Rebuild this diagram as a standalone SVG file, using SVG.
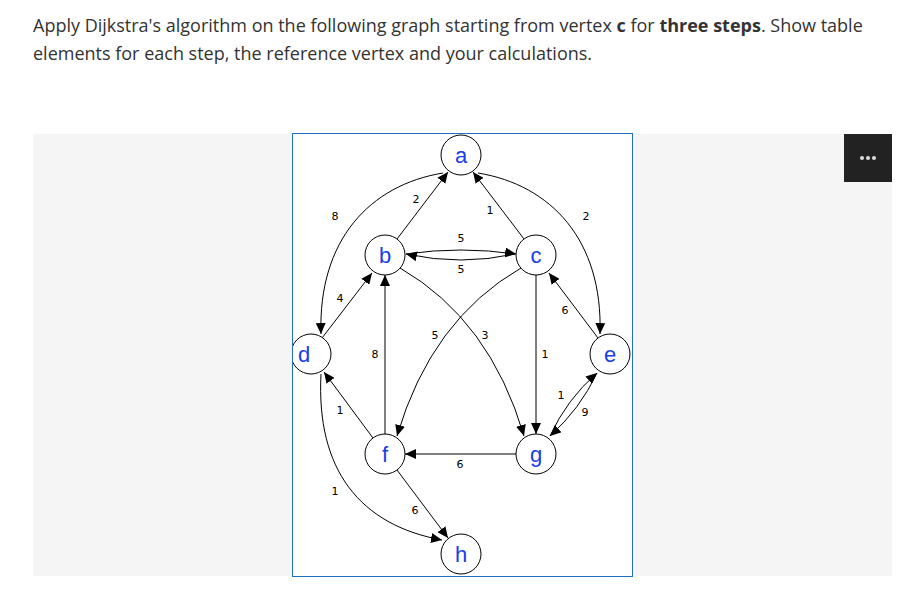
<svg xmlns="http://www.w3.org/2000/svg" width="915" height="603" viewBox="0 0 915 603">
<defs>
<style>
.q{font-family:"Open Sans","Noto Sans",sans-serif;font-size:18px;fill:#333}
.e{fill:none;stroke:#000;stroke-width:1}
.w{font-family:"DejaVu Sans",sans-serif;font-size:11px;fill:#000;text-anchor:middle}
.n circle{fill:#fff;stroke:#000;stroke-width:1}
.n text{font-family:"Liberation Sans",sans-serif;font-size:22px;fill:#1a3de6;text-anchor:middle}
</style>
<marker id="ar" markerUnits="userSpaceOnUse" markerWidth="12" markerHeight="10" refX="11" refY="5" orient="auto">
<path d="M0,0 L11,5 L0,10 Z" fill="#000"/>
</marker>
<clipPath id="box"><rect x="293" y="134" width="339" height="442"/></clipPath>
</defs>
<rect width="915" height="603" fill="#fff"/>
<text class="q" x="33" y="32">Apply Dijkstra's algorithm on the following graph starting from vertex <tspan font-weight="bold">c</tspan> for <tspan font-weight="bold">three steps</tspan>. Show table</text>
<text class="q" x="33" y="60">elements for each step, the reference vertex and your calculations.</text>
<rect x="33" y="134" width="859" height="442" fill="#f5f5f5"/>
<rect x="844" y="134" width="48" height="48" fill="#222"/>
<circle cx="862" cy="158" r="2" fill="#ddd"/>
<circle cx="868" cy="158" r="2" fill="#ddd"/>
<circle cx="874" cy="158" r="2" fill="#ddd"/>
<rect x="292.5" y="133.5" width="340" height="443" fill="#fff" stroke="#1f6fc5" stroke-width="1"/>
<g clip-path="url(#box)">
<g id="connectors" marker-end="url(#ar)">
<path class="e" d="M397,239 L448,172"/>
<path class="e" d="M524,239 L473,172"/>
<path class="e" d="M443,173 C370,185 318,240 321,334"/>
<path class="e" d="M478,173 C551,185 603,240 600,334"/>
<path class="e" d="M406,254 Q461,246 516,254"/>
<path class="e" d="M515,254 Q461,266 406,254"/>
<path class="e" d="M322,338 L372,273"/>
<path class="e" d="M385,434 L385,275"/>
<path class="e" d="M536,275 L536,434"/>
<path class="e" d="M516,454 L405,454"/>
<path class="e" d="M400,268 Q490,320 524,436"/>
<path class="e" d="M521,268 Q431,320 397,436"/>
<path class="e" d="M598,338 L549,273"/>
<path class="e" d="M550,436 Q567,399 597,373"/>
<path class="e" d="M597,373 Q580,409 550,436"/>
<path class="e" d="M373,438 L324,372"/>
<path class="e" d="M321,374 C316,470 360,525 442,540"/>
<path class="e" d="M397,470 L448,538"/>
</g>
<g id="weights">
<text class="w" x="416" y="203">2</text>
<text class="w" x="490" y="214">1</text>
<text class="w" x="335" y="220">8</text>
<text class="w" x="586" y="220">2</text>
<text class="w" x="461" y="242">5</text>
<text class="w" x="461" y="273">5</text>
<text class="w" x="340" y="302">4</text>
<text class="w" x="565" y="314">6</text>
<text class="w" x="435" y="339">5</text>
<text class="w" x="485" y="339">3</text>
<text class="w" x="375" y="358">8</text>
<text class="w" x="545" y="358">1</text>
<text class="w" x="340" y="414">1</text>
<text class="w" x="561" y="399">1</text>
<text class="w" x="585" y="416">9</text>
<text class="w" x="460" y="468">6</text>
<text class="w" x="335" y="495">1</text>
<text class="w" x="415" y="514">6</text>
</g>
<g id="node-a" class="n"><circle cx="461" cy="155" r="20"/><text x="461" y="163">a</text></g>
<g id="node-b" class="n"><circle cx="385" cy="255" r="20"/><text x="385" y="263">b</text></g>
<g id="node-c" class="n"><circle cx="536" cy="255" r="20"/><text x="536" y="263">c</text></g>
<g id="node-d" class="n"><circle cx="311" cy="354" r="20"/><text x="304" y="362">d</text></g>
<g id="node-e" class="n"><circle cx="610" cy="354" r="20"/><text x="610" y="362">e</text></g>
<g id="node-f" class="n"><circle cx="385" cy="454" r="20"/><text x="385" y="462">f</text></g>
<g id="node-g" class="n"><circle cx="536" cy="454" r="20"/><text x="536" y="462">g</text></g>
<g id="node-h" class="n"><circle cx="461" cy="554" r="20"/><text x="461" y="562">h</text></g>
</g>
</svg>
